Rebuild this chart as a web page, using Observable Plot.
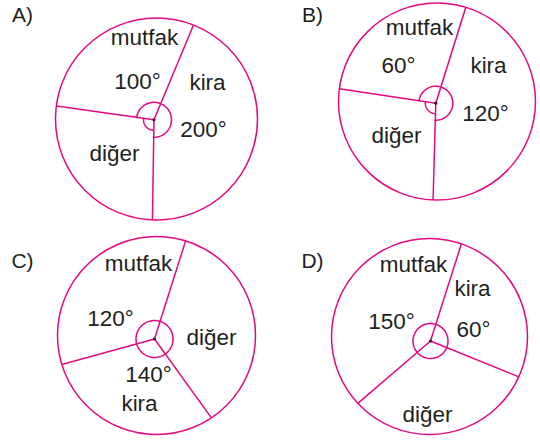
<!DOCTYPE html>
<html>
<head>
<meta charset="utf-8">
<script src="https://cdn.jsdelivr.net/npm/d3@7"></script>
<script src="https://cdn.jsdelivr.net/npm/@observablehq/plot@0.6"></script>
<style>
  html, body { margin: 0; padding: 0; background: #fff; }
  #chart { width: 540px; height: 442px; }
</style>
</head>
<body>
<div id="chart"></div>
<script>
// ---- data ----
const panels = ["A)", "B)", "C)", "D)"];
// circle centre and radius (chart units = px of the reference)
const circleX = [156, 436.5, 156, 429];
const circleY = [118.5, 101, 335, 336];
const circleR = [101, 98.5, 99, 98];
// vertex (where the radii meet)
const vertexX = [153.5, 435.3, 154, 430];
const vertexY = [119.3, 102.7, 338.5, 340.5];
// boundary radii: compass angles (deg, clockwise from top) of their ends on the circle
const boundaries = [
  [21.5, 182.3, 277.4],
  [17, 182.3, 277.5],
  [17.1, 146.3, 253],
  [19, 114.3, 227]
];
// angle markers: [panel, radius, start angle, end angle]
const markers = [
  [0, 17.5, -82.6, 182.3],
  [0, 10.5, 182.3, 277.4],
  [1, 17, -82.5, 182.3],
  [1, 10.5, 182.3, 277.5],
  [2, 18.5, 0, 360],
  [3, 17.5, 0, 360]
];
// sector labels
const labelPanel = [0,0,0,0,0, 1,1,1,1,1, 2,2,2,2,2, 3,3,3,3,3];
const labelText = ["mutfak","100°","kira","200°","diğer",
                   "mutfak","60°","kira","120°","diğer",
                   "mutfak","120°","diğer","140°","kira",
                   "mutfak","kira","150°","60°","diğer"];
const labelX = [144,137,207,203,114, 419,398,488,485,396, 138,110,211,148,139, 413,472,391,473,427];
const labelY = [37,81,82,129,153, 27,65,65,113,135, 263,318,337,374,403, 264,288,321,329,414];
const panelLabelX = [22, 312, 22, 312];
const panelLabelY = [15, 15, 261, 261];

// ---- build tables ----
const rad = (a) => a * Math.PI / 180;
const circles = panels.map((p, i) => ({x: circleX[i], y: circleY[i], r: circleR[i]}));
const radii = [];
boundaries.forEach((angs, i) => angs.forEach((a) => {
  radii.push({
    x1: vertexX[i], y1: vertexY[i],
    x2: circleX[i] + circleR[i] * Math.sin(rad(a)),
    y2: circleY[i] - circleR[i] * Math.cos(rad(a))
  });
}));
const arcPts = [];
markers.forEach(([p, r, a0, a1], k) => {
  const n = Math.max(8, Math.ceil(Math.abs(a1 - a0) / 4));
  for (let j = 0; j <= n; j++) {
    const a = a0 + (a1 - a0) * j / n;
    arcPts.push({k, x: vertexX[p] + r * Math.sin(rad(a)), y: vertexY[p] - r * Math.cos(rad(a))});
  }
});
const vertices = panels.map((p, i) => ({x: vertexX[i], y: vertexY[i]}));
const labels = labelText.map((t, i) => ({t, x: labelX[i], y: labelY[i]}));
const titles = panels.map((t, i) => ({t, x: panelLabelX[i], y: panelLabelY[i]}));

const pink = "#e4097f";
const ink = "#231f20";
const font = "'Liberation Sans', Arial, Helvetica, sans-serif";

const chart = Plot.plot({
  width: 540,
  height: 442,
  margin: 0,
  x: {domain: [0, 540], range: [0, 540], axis: null},
  y: {domain: [0, 442], range: [0, 442], axis: null},
  r: {type: "identity"},
  style: {background: "#fff", fontFamily: font},
  marks: [
    Plot.dot(circles, {x: "x", y: "y", r: "r", stroke: pink, strokeWidth: 1.5, fill: "none"}),
    Plot.link(radii, {x1: "x1", y1: "y1", x2: "x2", y2: "y2", stroke: pink, strokeWidth: 1.5}),
    Plot.line(arcPts, {x: "x", y: "y", z: "k", stroke: pink, strokeWidth: 1.5, curve: "linear"}),
    Plot.dot(vertices, {x: "x", y: "y", r: 1.6, fill: "#3a1a2a", stroke: "none"}),
    Plot.text(labels, {x: "x", y: "y", text: "t", fontSize: 22.5, fill: ink, textAnchor: "middle", lineAnchor: "middle"}),
    Plot.text(titles, {x: "x", y: "y", text: "t", fontSize: 21, fill: ink, textAnchor: "middle", lineAnchor: "middle"})
  ]
});
document.getElementById("chart").appendChild(chart);
</script>
</body>
</html>
